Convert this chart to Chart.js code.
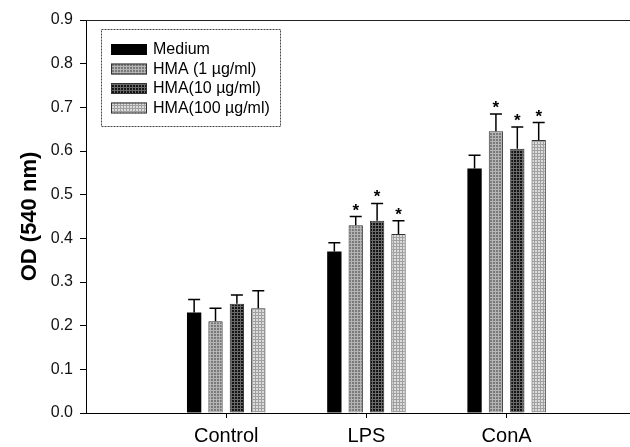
<!DOCTYPE html>
<html>
<head>
<title>OD (540 nm)</title>
<style>
body { margin: 0; background: #fff; }
.chart-container { width: 630px; height: 447px; }
</style>
<script src="https://cdn.jsdelivr.net/npm/chart.js@4/dist/chart.umd.min.js"></script>
</head>
<body>
<div class="chart-container"><canvas id="chart"></canvas></div>
<script>
const categories = ['Control', 'LPS', 'ConA'];
const seriesNames = ['Medium', 'HMA (1 \u00b5g/ml)', 'HMA(10 \u00b5g/ml)', 'HMA(100 \u00b5g/ml)'];
const medium = [0.23, 0.37, 0.56];
const hma1 = [0.21, 0.43, 0.645];
const hma10 = [0.25, 0.44, 0.605];
const hma100 = [0.24, 0.41, 0.625];
const errMedium = [0.03, 0.02, 0.03];
const errHma1 = [0.03, 0.02, 0.04];
const errHma10 = [0.02, 0.04, 0.05];
const errHma100 = [0.04, 0.03, 0.04];
const sigMedium = [false, false, false];
const sigHma1 = [false, true, true];
const sigHma10 = [false, true, true];
const sigHma100 = [false, true, true];
const yTicks = [0, 0.1, 0.2, 0.3, 0.4, 0.5, 0.6, 0.7, 0.8, 0.9];

function makePattern(base, line, step) {
	const c = document.createElement('canvas');
	c.width = step; c.height = step;
	const g = c.getContext('2d');
	g.fillStyle = base;
	g.fillRect(0, 0, step, step);
	g.fillStyle = line;
	g.fillRect(0, 0, step, 1);
	g.fillRect(0, 0, 1, step);
	return document.getElementById('chart').getContext('2d').createPattern(c, 'repeat');
}

const fills = [
	'#000000',
	makePattern('#7a7a7a', '#b4b4b4', 3),
	makePattern('#141414', '#6a6a6a', 3),
	makePattern('#dcdcdc', '#a0a0a0', 3)
];
const values = [medium, hma1, hma10, hma100];
const errors = [errMedium, errHma1, errHma10, errHma100];
const sigs = [sigMedium, sigHma1, sigHma10, sigHma100];

const datasets = values.map((vals, i) => ({
	label: seriesNames[i],
	data: vals.map((v, j) => ({ x: j + 1, y: v })),
	err: errors[i],
	sig: sigs[i],
	backgroundColor: fills[i],
	borderColor: i === 0 ? '#000' : '#333',
	borderWidth: i === 0 ? 0 : 1,
	categoryPercentage: 0.61,
	barPercentage: 0.67
}));

// error whiskers and significance stars
const errorBars = {
	id: 'errorBars',
	afterDatasetsDraw(chart) {
		const ctx = chart.ctx;
		const y = chart.scales.y;
		ctx.save();
		chart.data.datasets.forEach((ds, i) => {
			chart.getDatasetMeta(i).data.forEach((bar, j) => {
				const top = y.getPixelForValue(ds.data[j].y + ds.err[j]);
				ctx.strokeStyle = '#000';
				ctx.lineWidth = 1.5;
				ctx.beginPath();
				ctx.moveTo(bar.x, bar.y);
				ctx.lineTo(bar.x, top);
				ctx.moveTo(bar.x - 6, top);
				ctx.lineTo(bar.x + 6, top);
				ctx.stroke();
				if (ds.sig[j]) {
					ctx.fillStyle = '#000';
					ctx.font = 'bold 17px "Liberation Sans", Arial, sans-serif';
					ctx.textAlign = 'center';
					ctx.textBaseline = 'alphabetic';
					ctx.fillText('*', bar.x, top - 1);
				}
			});
		});
		ctx.restore();
	}
};

// boxed legend inside the plot and top frame line
const boxLegend = {
	id: 'boxLegend',
	afterDraw(chart) {
		const ctx = chart.ctx;
		const a = chart.chartArea;
		ctx.save();
		ctx.strokeStyle = '#222';
		ctx.lineWidth = 1;
		ctx.beginPath();
		ctx.moveTo(a.left, a.top + 0.5);
		ctx.lineTo(a.right, a.top + 0.5);
		ctx.stroke();
		const bx = a.left + 15, by = a.top + 9;
		ctx.setLineDash([2, 1]);
		ctx.strokeStyle = '#444';
		ctx.strokeRect(bx + 0.5, by + 0.5, 179, 97);
		ctx.setLineDash([]);
		ctx.font = '16px "Liberation Sans", Arial, sans-serif';
		ctx.textBaseline = 'middle';
		ctx.textAlign = 'left';
		chart.data.datasets.forEach((ds, i) => {
			const ry = by + 20 + i * 19.5;
			ctx.fillStyle = ds.backgroundColor;
			ctx.fillRect(bx + 10, ry - 5, 36, 11);
			if (i > 0) {
				ctx.strokeStyle = '#333';
				ctx.strokeRect(bx + 10.5, ry - 4.5, 35, 10);
			}
			ctx.fillStyle = '#000';
			ctx.fillText(ds.label, bx + 52, ry + 1);
		});
		ctx.restore();
	}
};

new Chart(document.getElementById('chart'), {
	type: 'bar',
	data: { datasets: datasets },
	plugins: [errorBars, boxLegend],
	options: {
		responsive: true,
		maintainAspectRatio: false,
		animation: false,
		layout: { padding: { top: 20, right: 0, left: 0, bottom: 0 } },
		plugins: { legend: { display: false }, tooltip: { enabled: false } },
		scales: {
			x: {
				type: 'linear',
				min: 0,
				max: 3.88,
				offset: false,
				afterBuildTicks: (s) => { s.ticks = categories.map((c, i) => ({ value: i + 1 })); },
				afterFit: (s) => { s.height = 34; },
				grid: { drawOnChartArea: false, offset: false, tickLength: 5, color: '#000' },
				border: { color: '#000', width: 1 },
				ticks: {
					color: '#000',
					padding: 6,
					font: { family: '"Liberation Sans", Arial, sans-serif', size: 20 },
					callback: (v) => categories[v - 1] || ''
				}
			},
			y: {
				min: 0,
				max: 0.9,
				afterBuildTicks: (s) => { s.ticks = yTicks.map(v => ({ value: v })); },
				afterFit: (s) => { s.width = 86; },
				grid: { drawOnChartArea: false, tickLength: 6, color: '#000' },
				border: { color: '#000', width: 1 },
				ticks: {
					color: '#111',
					padding: 7,
					font: { family: '"Liberation Sans", Arial, sans-serif', size: 16 },
					callback: (v) => v.toFixed(1)
				},
				title: {
					display: true,
					text: 'OD (540 nm)',
					color: '#000',
					padding: { top: 17, bottom: 0 },
					font: { family: '"Liberation Sans", Arial, sans-serif', size: 22, weight: 'bold' }
				}
			}
		}
	}
});
</script>
</body>
</html>
